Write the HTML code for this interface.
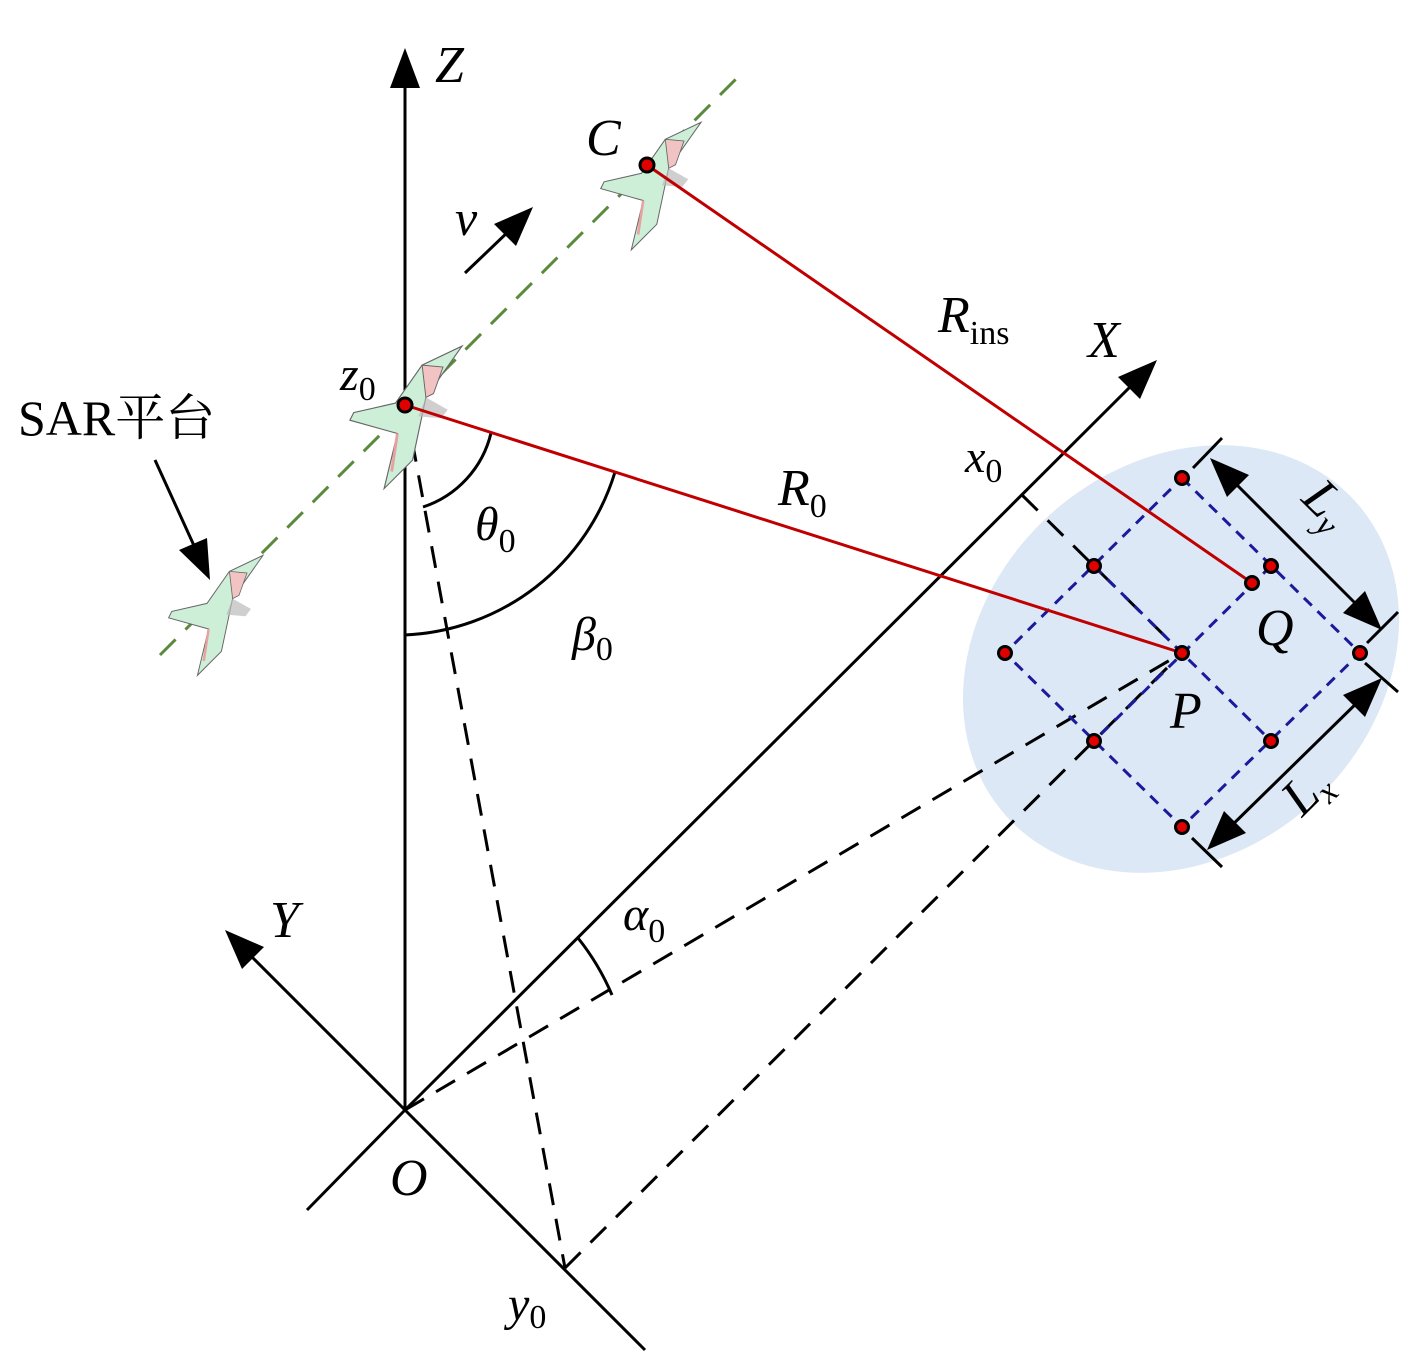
<!DOCTYPE html>
<html><head><meta charset="utf-8"><style>
body{margin:0;background:#fff}
svg{display:block}
text{font-family:"Liberation Serif","Noto Serif CJK SC",serif;font-style:italic;fill:#000}
.s{font-style:normal}
</style></head><body>
<svg width="1417" height="1354" viewBox="0 0 1417 1354" xmlns="http://www.w3.org/2000/svg">
<defs>
<g id="plane">
<path d="M60,-62 L22,-8 L8,58 L-22,88 L-8,30 L-58,16 L-54,8 L-10,-2 L18,-42 Z" fill="#cdeed7" stroke="#666" stroke-width="1.2"/>
<path d="M18,-42 L40,-40 L30,-12 L22,-8 Z" fill="#f2c3c3" stroke="#666" stroke-width="1"/>
<path d="M22,-8 L45,5 L38,14 L14,12 Z" fill="#bbb" opacity="0.7"/>
<path d="M-8,30 L-14,70" stroke="#e8a0a0" stroke-width="3"/>
</g>
</defs>
<ellipse cx="1181" cy="659" rx="235" ry="195" transform="rotate(-42 1181 659)" fill="#dce8f5"/>
<line x1="160" y1="655" x2="740" y2="75" stroke="#5a8a3c" stroke-width="3" stroke-dasharray="22,14"/>
<g stroke="#000" stroke-width="3" fill="none">
<line x1="405" y1="1112" x2="405" y2="80"/>
<line x1="405" y1="1110" x2="1135" y2="382"/>
<line x1="405" y1="1110" x2="247" y2="952"/>
<line x1="405" y1="1110" x2="307" y2="1210"/>
<line x1="405" y1="1110" x2="645" y2="1350"/>
<line x1="465" y1="273" x2="510" y2="230"/>
<line x1="155" y1="460" x2="196" y2="550"/>
<line x1="1225" y1="473" x2="1367" y2="615"/>
<line x1="1367" y1="693" x2="1222" y2="835"/>
<line x1="1222" y1="438" x2="1193" y2="468"/>
<line x1="1398" y1="612" x2="1367" y2="643"/>
<line x1="1365" y1="663" x2="1398" y2="692"/>
<line x1="1192" y1="838" x2="1222" y2="867"/>
</g>
<g fill="#000">
<polygon points="405,48 390,88 420,88"/>
<polygon points="1157,360 1118,377 1140,399"/>
<polygon points="225,930 264,947 242,969"/>
<polygon points="533,207 494,224 516,246"/>
<polygon points="210,580 207,538 179,550"/>
<polygon points="1210,458 1249,475 1227,497"/>
<polygon points="1382,630 1365,591 1343,613"/>
<polygon points="1382,678 1365,717 1343,695"/>
<polygon points="1207,850 1246,833 1224,811"/>
</g>
<g stroke="#000" stroke-width="3" fill="none" stroke-dasharray="22,14">
<line x1="412" y1="440" x2="565" y2="1268"/>
<line x1="565" y1="1268" x2="1182" y2="653"/>
<line x1="405" y1="1110" x2="1182" y2="653"/>
<line x1="1022" y1="495" x2="1182" y2="653"/>
</g>
<g stroke="#000" stroke-width="3" fill="none">
<path d="M423,507 A103,103 0 0 0 491,433"/>
<path d="M405,635 A230,230 0 0 0 615,472"/>
<path d="M578,938 A243,243 0 0 1 612,995"/>
</g>
<g stroke="#1a1a9a" stroke-width="3" fill="none" stroke-dasharray="11,8">
<path d="M1182,478 L1360,653 L1182,827 L1005,653 Z"/>
<line x1="1094" y1="566" x2="1271" y2="741"/>
<line x1="1271" y1="566" x2="1094" y2="741"/>
</g>
<use href="#plane" transform="translate(405,405) scale(0.95)"/>
<use href="#plane" transform="translate(650,175) scale(0.85)"/>
<use href="#plane" transform="translate(215,605) scale(0.8)"/>
<g stroke="#c00000" stroke-width="3">
<line x1="405" y1="405" x2="1182" y2="653"/>
<line x1="647" y1="165" x2="1252" y2="583"/>
</g>
<g fill="#e00000" stroke="#000" stroke-width="3">
<circle cx="405" cy="405" r="7"/><circle cx="647" cy="165" r="7"/>
<circle cx="1182" cy="478" r="6.5"/><circle cx="1360" cy="653" r="6.5"/><circle cx="1182" cy="827" r="6.5"/><circle cx="1005" cy="653" r="6.5"/>
<circle cx="1094" cy="566" r="6.5"/><circle cx="1271" cy="566" r="6.5"/><circle cx="1094" cy="741" r="6.5"/><circle cx="1271" cy="741" r="6.5"/>
<circle cx="1182" cy="653" r="6.5"/><circle cx="1252" cy="583" r="6.5"/>
</g>
<text x="435" y="82" font-size="52">Z</text>
<text x="586" y="155" font-size="52">C</text>
<text x="455" y="235" font-size="50">v</text>
<text x="938" y="332" font-size="52">R<tspan class="s" font-size="34" dy="12">ins</tspan></text>
<text x="1088" y="357" font-size="52">X</text>
<text x="340" y="390" font-size="48">z<tspan class="s" font-size="34" dy="10">0</tspan></text>
<text class="s" x="18" y="435" font-size="50">SAR平台</text>
<text x="965" y="472" font-size="46">x<tspan class="s" font-size="34" dy="10">0</tspan></text>
<text x="475" y="540" font-size="48">θ<tspan class="s" font-size="34" dy="12">0</tspan></text>
<text x="778" y="505" font-size="52">R<tspan class="s" font-size="34" dy="12">0</tspan></text>
<text x="572" y="650" font-size="48">β<tspan class="s" font-size="34" dy="10">0</tspan></text>
<text x="1256" y="645" font-size="52">Q</text>
<text x="1170" y="728" font-size="52">P</text>
<text x="623" y="930" font-size="48">α<tspan class="s" font-size="34" dy="12">0</tspan></text>
<text x="270" y="937" font-size="52">Y</text>
<text x="390" y="1195" font-size="52">O</text>
<text x="508" y="1320" font-size="48">y<tspan class="s" font-size="34" dy="8">0</tspan></text>
<text x="0" y="0" font-size="52" transform="translate(1300,500) rotate(45)">L<tspan font-size="34" dy="10">y</tspan></text>
<text x="0" y="0" font-size="52" transform="translate(1302,818) rotate(-45)">L<tspan font-size="34" dy="10">x</tspan></text>
</svg>
</body></html>
